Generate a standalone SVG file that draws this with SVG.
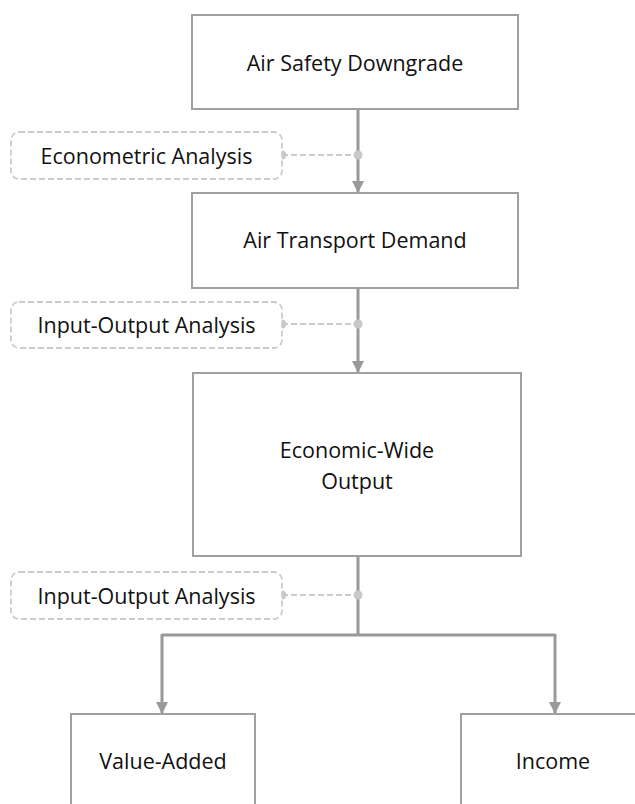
<svg xmlns="http://www.w3.org/2000/svg" width="635" height="804" viewBox="0 0 635 804">
<style>
.box{fill:#fff;stroke:#a0a0a0;stroke-width:2}
.note{fill:#fff;stroke:#cccccc;stroke-width:1.8;stroke-dasharray:6 3}
.t{font-family:"Open Sans","Liberation Sans",sans-serif;font-size:21.5px;fill:#111;text-anchor:middle}
.conn{fill:none;stroke:#999;stroke-width:3}
.dash{fill:none;stroke:#cccccc;stroke-width:1.8;stroke-dasharray:6 3}
.dot{fill:#c8c8c8}
</style>
<defs>
<marker id="ah" viewBox="0 0 12 12" refX="12" refY="6" markerWidth="12" markerHeight="13" markerUnits="userSpaceOnUse" orient="auto">
<path d="M0,0 L12,6 L0,12 z" fill="#999"/>
</marker>
</defs>
<g id="connectors">
<line class="conn" x1="358" y1="109" x2="358" y2="193" marker-end="url(#ah)"/>
<line class="conn" x1="358" y1="288" x2="358" y2="373" marker-end="url(#ah)"/>
<path class="conn" d="M358,557 V635"/>
<path class="conn" d="M162,635 H555"/>
<line class="conn" x1="162" y1="634" x2="162" y2="714" marker-end="url(#ah)"/>
<line class="conn" x1="555" y1="634" x2="555" y2="714" marker-end="url(#ah)"/>
<line class="dash" x1="282" y1="155" x2="358" y2="155"/>
<circle class="dot" cx="282" cy="155" r="4.5"/>
<circle class="dot" cx="358" cy="155" r="4.5"/>
<line class="dash" x1="282" y1="324" x2="358" y2="324"/>
<circle class="dot" cx="282" cy="324" r="4.5"/>
<circle class="dot" cx="358" cy="324" r="4.5"/>
<line class="dash" x1="282" y1="595" x2="358" y2="595"/>
<circle class="dot" cx="282" cy="595" r="4.5"/>
<circle class="dot" cx="358" cy="595" r="4.5"/>
</g>
<g id="air-safety">
<rect class="box" x="192" y="15" width="326" height="94"/>
<text class="t" x="355" y="71">Air Safety Downgrade</text>
</g>
<g id="econometric">
<rect class="note" x="11" y="132" width="271" height="47" rx="8"/>
<text class="t" x="146.5" y="164">Econometric Analysis</text>
</g>
<g id="air-transport">
<rect class="box" x="192" y="193" width="326" height="95"/>
<text class="t" x="355" y="248">Air Transport Demand</text>
</g>
<g id="io1">
<rect class="note" x="11" y="302" width="271" height="46" rx="8"/>
<text class="t" x="146.5" y="333">Input-Output Analysis</text>
</g>
<g id="economic-output">
<rect class="box" x="193" y="373" width="328" height="183"/>
<text class="t" x="357" y="458">Economic-Wide</text>
<text class="t" x="357" y="489">Output</text>
</g>
<g id="io2">
<rect class="note" x="11" y="572" width="271" height="47" rx="8"/>
<text class="t" x="146.5" y="604">Input-Output Analysis</text>
</g>
<g id="value-added">
<rect class="box" x="71" y="714" width="184" height="100"/>
<text class="t" x="163" y="769">Value-Added</text>
</g>
<g id="income">
<rect class="box" x="461" y="714" width="184" height="100"/>
<text class="t" x="553" y="769">Income</text>
</g>
</svg>
